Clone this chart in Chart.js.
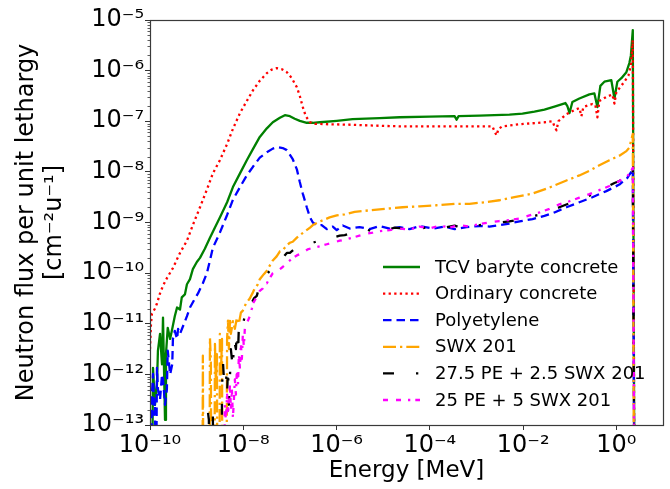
<!DOCTYPE html>
<html>
<head>
<meta charset="utf-8">
<script src="https://cdn.jsdelivr.net/npm/chart.js@4/dist/chart.umd.min.js"></script>
<style>
  html, body { margin: 0; padding: 0; background: #fff; }
  #c { display: block; }
</style>
</head>
<body>
<canvas id="c" width="670" height="489" style="width:670px;height:489px"></canvas>
<script>
// ---------- data (energy in MeV, flux per unit lethargy) ----------
const tcvE = [1.1e-10,1.16e-10,1.28e-10,1.41e-10,1.48e-10,1.64e-10,1.81e-10,1.9e-10,2.1e-10,2.2e-10,2.4e-10,2.7e-10,3.0e-10,3.4e-10,3.8e-10,4.4e-10,4.8e-10,5.6e-10,6.2e-10,7.2e-10,8.3e-10,1.01e-9,1.18e-9,1.5e-9,1.93e-9,2.47e-9,3.15e-9,4.5e-9,6.0e-9,8.5e-9,1.19e-8,1.61e-8,2.26e-8,3.2e-8,4.3e-8,6.1e-8,7.8e-8,1.0e-7,1.27e-7,1.63e-7,2.3e-7,3.1e-7,4.4e-7,1.01e-6,2.2e-6,8.4e-6,2.25e-5,9.9e-5,3.4e-4,3.75e-4,4.14e-4,1.16e-3,5.1e-3,9.7e-3,1.75e-2,2.87e-2,4.7e-2,8.1e-2,8.9e-2,9.9e-2,0.114,0.161,0.264,0.338,0.392,0.454,0.553,0.78,0.91,1.05,1.28,1.64,1.9,2.05,2.25,2.45];
const tcvF = [1e-15,1.35e-12,2.51e-13,6.31e-13,2.95e-12,6.31e-12,1.58e-12,1.32e-11,1.26e-13,2.51e-12,8.32e-12,5.01e-12,7.94e-12,1.41e-11,2.09e-11,1.91e-11,3.31e-11,3.8e-11,6.03e-11,7.59e-11,1.2e-10,1.66e-10,2.0e-10,3.02e-10,5.01e-10,7.94e-10,1.26e-9,2.51e-9,5.01e-9,9.33e-9,1.7e-8,2.82e-8,4.9e-8,7.24e-8,9.55e-8,1.17e-7,1.32e-7,1.26e-7,1.12e-7,1.02e-7,9.33e-8,9.33e-8,9.55e-8,1.02e-7,1.1e-7,1.15e-7,1.2e-7,1.23e-7,1.26e-7,1.07e-7,1.26e-7,1.29e-7,1.35e-7,1.41e-7,1.55e-7,1.7e-7,1.95e-7,2.29e-7,2.0e-7,1.45e-7,2.4e-7,2.82e-7,3.39e-7,3.55e-7,1.91e-7,5.01e-7,6.03e-7,6.46e-7,2.82e-7,6.03e-7,7.08e-7,9.33e-7,1.41e-6,2.0e-6,6.31e-6,1e-15];

const ordE = [1.0e-10,1.05e-10,1.1e-10,1.28e-10,1.41e-10,1.64e-10,1.9e-10,2.3e-10,3.1e-10,4.4e-10,6.2e-10,8.3e-10,1.18e-9,1.66e-9,2.23e-9,3.15e-9,4.5e-9,6.0e-9,8.5e-9,1.19e-8,1.61e-8,2.26e-8,3.2e-8,4.1e-8,5.2e-8,6.7e-8,8.6e-8,1.1e-7,1.41e-7,1.63e-7,1.89e-7,2.19e-7,2.7e-7,3.41e-7,7.1e-7,2.2e-6,8.4e-6,2.25e-5,2.65e-4,2.2e-3,2.44e-3,2.7e-3,2.97e-3,3.6e-3,8.4e-3,2.87e-2,4.3e-2,4.7e-2,5.2e-2,5.7e-2,8.5e-2,0.126,0.161,0.178,0.196,0.306,0.355,0.392,0.432,0.61,0.82,0.91,1.0,1.16,1.48,1.81,2.05,2.25,2.45];
const ordF = [3.16e-12,1.0e-11,1.58e-11,2.0e-11,2.51e-11,3.98e-11,5.62e-11,7.94e-11,1.26e-10,2.51e-10,4.37e-10,8.91e-10,2.0e-9,4.47e-9,9.33e-9,1.7e-8,3.55e-8,7.08e-8,1.45e-7,2.51e-7,4.07e-7,6.31e-7,8.91e-7,1.05e-6,1.12e-6,1.07e-6,9.33e-7,7.08e-7,4.68e-7,3.16e-7,1.91e-7,1.26e-7,9.55e-8,8.91e-8,8.71e-8,8.51e-8,8.13e-8,7.94e-8,7.94e-8,7.94e-8,6.31e-8,5.25e-8,7.08e-8,7.94e-8,8.71e-8,9.55e-8,1.0e-7,7.94e-8,6.61e-8,1.0e-7,1.38e-7,1.66e-7,1.82e-7,1.26e-7,1.91e-7,2.19e-7,2.09e-7,1.2e-7,2.51e-7,3.02e-7,3.39e-7,2.24e-7,3.8e-7,4.47e-7,6.03e-7,7.94e-7,1.26e-6,3.98e-6,1e-15];

const peE = [1.05e-10,1.1e-10,1.16e-10,1.22e-10,1.28e-10,1.34e-10,1.41e-10,1.48e-10,1.64e-10,1.81e-10,1.9e-10,2.1e-10,2.3e-10,2.4e-10,2.7e-10,3.0e-10,3.1e-10,3.4e-10,3.8e-10,4.0e-10,4.4e-10,5.1e-10,6.2e-10,7.2e-10,9.2e-10,1.07e-9,1.36e-9,1.66e-9,1.93e-9,2.23e-9,3.15e-9,4.5e-9,6.0e-9,8.5e-9,1.19e-8,1.61e-8,2.26e-8,3.2e-8,4.3e-8,5.5e-8,7.0e-8,8.6e-8,1.15e-7,1.41e-7,1.63e-7,1.89e-7,2.3e-7,2.7e-7,3.1e-7,3.8e-7,4.8e-7,6.2e-7,8.3e-7,1.01e-6,1.36e-6,1.92e-6,3.1e-6,5.1e-6,8.4e-6,1.38e-5,2.25e-5,3.69e-5,6.05e-5,1.15e-4,2.07e-4,3.4e-4,6.1e-4,1.16e-3,1.9e-3,3.1e-3,5.1e-3,8.4e-3,1.59e-2,2.87e-2,4.7e-2,8.5e-2,0.161,0.306,0.61,1.16,1.72,2.25,2.45];
const peF = [1e-15,3.98e-13,1.02e-12,1.58e-13,3.16e-13,1e-15,1.35e-12,5.01e-13,3.16e-13,1.0e-12,7.94e-13,2.51e-13,5.01e-13,2.95e-12,1.0e-12,1.58e-12,5.01e-12,7.24e-12,5.01e-12,7.94e-12,6.31e-12,8.91e-12,1.41e-11,2.09e-11,3.16e-11,3.98e-11,6.31e-11,1.0e-10,1.78e-10,3.16e-10,6.31e-10,1.41e-9,2.82e-9,5.01e-9,8.51e-9,1.26e-8,1.91e-8,2.45e-8,2.88e-8,3.09e-8,2.95e-8,2.69e-8,1.78e-8,1.12e-8,6.31e-9,3.72e-9,2.0e-9,1.26e-9,1.0e-9,8.71e-10,8.91e-10,7.41e-10,8.32e-10,7.08e-10,8.71e-10,7.59e-10,8.13e-10,7.41e-10,8.51e-10,7.59e-10,8.13e-10,7.41e-10,8.51e-10,7.59e-10,8.32e-10,7.41e-10,8.13e-10,8.51e-10,8.32e-10,8.91e-10,9.55e-10,1.05e-9,1.17e-9,1.35e-9,1.58e-9,2.0e-9,2.51e-9,3.16e-9,4.17e-9,5.62e-9,7.59e-9,1.12e-8,1e-15];

const swxE = [1.33e-9,1.36e-9,1.40e-9,1.88e-9,1.93e-9,2.02e-9,2.07e-9,2.4e-9,2.47e-9,2.59e-9,2.72e-9,2.79e-9,3.08e-9,3.15e-9,3.31e-9,3.5e-9,3.56e-9,4.35e-9,4.5e-9,4.7e-9,4.92e-9,5.2e-9,5.42e-9,6.0e-9,6.6e-9,7.3e-9,8.05e-9,8.89e-9,9.8e-9,1.14e-8,1.38e-8,1.61e-8,1.77e-8,2.06e-8,2.26e-8,2.76e-8,3.2e-8,3.7e-8,4.3e-8,5.2e-8,6.1e-8,7.0e-8,8.6e-8,1.0e-7,1.15e-7,1.41e-7,1.63e-7,2.08e-7,2.7e-7,3.1e-7,4.4e-7,7.1e-7,1.01e-6,1.5e-6,2.45e-6,5.1e-6,1.08e-5,2.6e-5,6.05e-5,1.4e-4,3.4e-4,7.1e-4,1.49e-3,3.1e-3,6.5e-3,1.59e-2,3.67e-2,8.5e-2,0.161,0.264,0.432,0.71,1.16,1.64,1.9,2.25,2.4];
const swxF = [1e-15,2.34e-12,1e-15,1e-15,5.25e-12,1.78e-12,1e-15,1e-15,3.98e-12,6.31e-13,2.51e-12,1e-15,1e-15,6.31e-12,1.0e-12,5.01e-12,1e-15,1e-15,5.01e-12,1.15e-11,3.16e-12,1.26e-11,6.31e-12,1.12e-11,7.94e-12,1.32e-11,1.0e-11,1.66e-11,1.82e-11,2.51e-11,3.16e-11,4.17e-11,5.01e-11,6.03e-11,7.59e-11,9.55e-11,1.12e-10,1.41e-10,1.78e-10,2.14e-10,2.69e-10,2.82e-10,3.55e-10,3.98e-10,4.17e-10,5.01e-10,5.62e-10,6.61e-10,7.94e-10,8.91e-10,1.05e-9,1.26e-9,1.38e-9,1.45e-9,1.62e-9,1.74e-9,1.86e-9,2.0e-9,2.09e-9,2.19e-9,2.34e-9,2.34e-9,2.51e-9,2.75e-9,3.16e-9,3.72e-9,4.9e-9,6.76e-9,8.51e-9,1.05e-8,1.35e-8,1.7e-8,2.09e-8,2.57e-8,3.02e-8,5.62e-8,1e-15];

const mix1E = [1.7e-9,1.75e-9,1.83e-9,1.88e-9,2.17e-9,2.23e-9,2.29e-9,3.4e-9,3.5e-9,3.66e-9,3.85e-9,4.24e-9,4.5e-9,4.7e-9,4.92e-9,5.2e-9,5.42e-9,6.0e-9,6.3e-9,6.95e-9,7.3e-9,7.7e-9,8.05e-9,8.89e-9,9.8e-9,1.08e-8,1.19e-8,1.32e-8,1.46e-8,1.69e-8,1.95e-8,2.16e-8,2.5e-8,2.9e-8,3.37e-8,3.7e-8,4.52e-8,5.2e-8,6.1e-8,7.0e-8,8.6e-8,1.0e-7,1.27e-7,1.63e-7,2.08e-7,2.7e-7,3.59e-7,4.4e-7,6.2e-7,8.3e-7,1.17e-6,1.5e-6,2.2e-6,3.1e-6,4.44e-6,5.96e-6,8.4e-6,1.19e-5,1.76e-5,2.6e-5,4.07e-5,6.05e-5,8.98e-5,1.4e-4,2.07e-4,3.4e-4,5.0e-4,7.1e-4,1.16e-3,1.9e-3,3.1e-3,5.1e-3,8.4e-3,1.37e-2,2.25e-2,3.67e-2,6.0e-2,9.9e-2,0.161,0.264,0.432,0.61,0.91,1.16,1.64,1.9,2.25,2.45];
const mix1F = [1e-15,1.78e-13,1.26e-13,1e-15,1e-15,1.58e-13,1e-15,1e-15,5.01e-13,1.86e-12,7.94e-13,1.26e-12,3.98e-13,1.41e-12,2.51e-13,1.0e-12,3.16e-12,1.26e-12,5.01e-12,3.16e-12,7.24e-12,2.51e-12,8.91e-12,1.12e-11,8.91e-12,1.51e-11,1.41e-11,2.0e-11,2.4e-11,3.16e-11,3.55e-11,5.01e-11,6.31e-11,7.94e-11,1.0e-10,1.12e-10,1.41e-10,1.58e-10,1.91e-10,2.0e-10,2.51e-10,2.51e-10,3.02e-10,3.24e-10,3.55e-10,3.8e-10,4.17e-10,3.98e-10,4.68e-10,5.01e-10,5.5e-10,5.62e-10,6.31e-10,6.17e-10,7.24e-10,6.61e-10,7.59e-10,7.08e-10,7.94e-10,7.59e-10,8.32e-10,7.41e-10,8.13e-10,7.59e-10,7.94e-10,8.71e-10,7.59e-10,8.32e-10,8.91e-10,9.12e-10,1.0e-9,1.05e-9,1.15e-9,1.32e-9,1.41e-9,1.66e-9,2.0e-9,2.4e-9,2.82e-9,3.39e-9,4.17e-9,5.01e-9,6.03e-9,6.61e-9,7.94e-9,9.33e-9,1.26e-8,1e-15];

const mix2E = [3.94e-9,4.0e-9,4.24e-9,4.5e-9,4.7e-9,5.2e-9,5.42e-9,5.7e-9,6.0e-9,6.3e-9,6.6e-9,6.95e-9,7.3e-9,7.7e-9,8.05e-9,8.5e-9,8.89e-9,9.33e-9,9.8e-9,1.03e-8,1.08e-8,1.19e-8,1.26e-8,1.38e-8,1.53e-8,1.61e-8,1.86e-8,2.06e-8,2.26e-8,2.63e-8,2.9e-8,3.2e-8,3.7e-8,4.3e-8,5.2e-8,6.1e-8,7.0e-8,8.6e-8,1.0e-7,1.15e-7,1.41e-7,1.89e-7,2.4e-7,3.1e-7,4.4e-7,6.2e-7,8.3e-7,1.17e-6,1.65e-6,2.2e-6,3.1e-6,4.44e-6,5.96e-6,8.4e-6,1.38e-5,2.25e-5,3.69e-5,6.05e-5,9.9e-5,1.62e-4,2.65e-4,4.35e-4,7.1e-4,1.16e-3,1.9e-3,3.1e-3,5.1e-3,8.4e-3,1.37e-2,2.25e-2,3.67e-2,6.0e-2,9.9e-2,0.161,0.264,0.432,0.71,1.16,1.64,1.9,2.25,2.45];
const mix2F = [1e-15,2.51e-13,1.26e-13,3.98e-13,1.58e-13,6.31e-13,2.0e-13,5.01e-13,1.41e-13,3.16e-13,7.94e-13,3.98e-13,1.26e-12,6.31e-13,2.51e-12,1.26e-12,3.98e-12,2.0e-12,6.31e-12,3.55e-12,7.94e-12,1.0e-11,1.15e-11,1.41e-11,2.0e-11,2.51e-11,3.16e-11,3.55e-11,4.47e-11,5.01e-11,6.31e-11,6.31e-11,7.94e-11,1.0e-10,1.12e-10,1.2e-10,1.32e-10,1.58e-10,1.78e-10,2.0e-10,2.24e-10,2.51e-10,2.95e-10,3.16e-10,3.39e-10,3.72e-10,3.98e-10,4.37e-10,4.68e-10,5.01e-10,5.5e-10,6.03e-10,6.31e-10,6.76e-10,7.08e-10,7.59e-10,7.24e-10,8.32e-10,7.59e-10,8.71e-10,7.94e-10,8.91e-10,8.32e-10,9.33e-10,1.0e-9,1.07e-9,1.12e-9,1.2e-9,1.38e-9,1.58e-9,1.86e-9,2.29e-9,2.63e-9,3.09e-9,3.63e-9,4.37e-9,5.25e-9,6.61e-9,7.94e-9,9.12e-9,1.2e-8,1e-15];

const seriesLabels = ['TCV baryte concrete','Ordinary concrete','Polyetylene','SWX 201','27.5 PE + 2.5 SWX 201','25 PE + 5 SWX 201'];

// ticks
const xTickValues = [1e-10,1e-8,1e-6,1e-4,1e-2,1e0];
const xTickLabels = ['10\u207B\u00B9\u2070','10\u207B\u2078','10\u207B\u2076','10\u207B\u2074','10\u207B\u00B2','10\u2070'];
const yTickValues = [1e-13,1e-12,1e-11,1e-10,1e-9,1e-8,1e-7,1e-6,1e-5];
const yTickLabels = ['10\u207B\u00B9\u00B3','10\u207B\u00B9\u00B2','10\u207B\u00B9\u00B9','10\u207B\u00B9\u2070','10\u207B\u2079','10\u207B\u2078','10\u207B\u2077','10\u207B\u2076','10\u207B\u2075'];

// ---------- build ----------
const FONT = '"DejaVu Sans", "Liberation Sans", sans-serif';
const zip = (E, F) => E.slice(0, Math.min(E.length, F.length)).map((e, i) => ({ x: e, y: F[i] }));

const styles = [
  { color: '#008000', dash: [] },
  { color: '#ff0000', dash: [2.3, 3.3] },
  { color: '#0000ff', dash: [8.5, 5] },
  { color: '#ffa500', dash: [13, 4, 2.3, 4] },
  { color: '#000000', dash: [11, 22, 2.3, 22] },
  { color: '#ff00ff', dash: [5, 8, 5, 7, 2.3, 5] }
];
const sets = [zip(tcvE, tcvF), zip(ordE, ordF), zip(peE, peF), zip(swxE, swxF), zip(mix1E, mix1F), zip(mix2E, mix2F)];

const datasets = sets.map((d, i) => ({
  label: seriesLabels[i],
  data: d,
  borderColor: styles[i].color,
  backgroundColor: styles[i].color,
  borderDash: styles[i].dash,
  borderWidth: 2.3,
  pointRadius: 0,
  tension: 0,
  fill: false,
  borderCapStyle: 'butt',
  borderJoinStyle: 'round',
  order: 5 - i
}));

const decor = {
  id: 'decor',
  afterDatasetsDraw(chart) {
    const { ctx, chartArea: a, scales } = chart;
    const y = scales.y;
    ctx.save();
    ctx.strokeStyle = '#333';
    ctx.lineWidth = 0.8;
    for (let e = -13; e < -5; e++) {
      for (let m = 2; m <= 9; m++) {
        const py = Math.round(y.getPixelForValue(m * Math.pow(10, e))) + 0.5;
        ctx.beginPath();
        ctx.moveTo(a.left - 2.5, py);
        ctx.lineTo(a.left + 0.5, py);
        ctx.stroke();
      }
    }
    ctx.strokeStyle = '#3a3a3a';
    ctx.lineWidth = 1.2;
    ctx.strokeRect(Math.round(a.left) + 0.5, Math.round(a.top) + 0.5, Math.round(a.right - a.left), Math.round(a.bottom - a.top));
    ctx.restore();
  },
  afterDraw(chart) {
    const { ctx, chartArea: a } = chart;
    ctx.save();
    const x0 = a.right - 280;
    const y0 = a.bottom - 158;
    const step = 26.6;
    ctx.font = '18px ' + FONT;
    ctx.textBaseline = 'middle';
    ctx.textAlign = 'left';
    chart.data.datasets.forEach((ds, i) => {
      const yy = y0 + i * step;
      ctx.beginPath();
      ctx.setLineDash(ds.borderDash || []);
      ctx.strokeStyle = ds.borderColor;
      ctx.lineWidth = 2.3;
      ctx.lineCap = 'butt';
      ctx.moveTo(x0, yy);
      ctx.lineTo(x0 + 37, yy);
      ctx.stroke();
      ctx.setLineDash([]);
      ctx.fillStyle = '#000';
      ctx.fillText(ds.label, x0 + 52, yy + 1);
    });
    ctx.restore();
  }
};

new Chart(document.getElementById('c'), {
  type: 'line',
  data: { datasets },
  options: {
    responsive: false,
    animation: false,
    events: [],
    layout: { padding: { left: 0, right: 7, top: 20, bottom: 0 } },
    plugins: { legend: { display: false }, tooltip: { enabled: false } },
    scales: {
      x: {
        type: 'logarithmic',
        min: 1e-10,
        max: 10,
        afterBuildTicks: s => { s.ticks = xTickValues.map(v => ({ value: v })); },
        afterFit: s => { s.height = 64; },
        ticks: {
          autoSkip: false, maxRotation: 0, minRotation: 0,
          color: '#000', padding: 1,
          font: { family: FONT, size: 24 },
          callback: (v, i) => xTickLabels[i]
        },
        grid: { drawOnChartArea: false, drawTicks: true, tickLength: 5, color: '#333', tickWidth: 1 },
        border: { display: false },
        title: { display: true, text: 'Energy [MeV]', color: '#000', font: { family: FONT, size: 23, lineHeight: 1.0 }, padding: { top: 0, bottom: 6 } }
      },
      y: {
        type: 'logarithmic',
        min: 1e-13,
        max: 1e-5,
        afterBuildTicks: s => { s.ticks = yTickValues.map(v => ({ value: v })); },
        afterFit: s => { s.width = 150; },
        ticks: {
          autoSkip: false, color: '#000', padding: 1,
          font: { family: FONT, size: 24 },
          callback: (v, i) => yTickLabels[i]
        },
        grid: { drawOnChartArea: false, drawTicks: true, tickLength: 5, color: '#333', tickWidth: 1 },
        border: { display: false },
        title: { display: true, text: ['Neutron flux per unit lethargy', '[cm\u207B\u00B2u\u207B\u00B9]'], color: '#000', font: { family: FONT, size: 24, lineHeight: 1.2 }, padding: { top: 12, bottom: 0 } }
      }
    }
  },
  plugins: [decor]
});
</script>
</body>
</html>
